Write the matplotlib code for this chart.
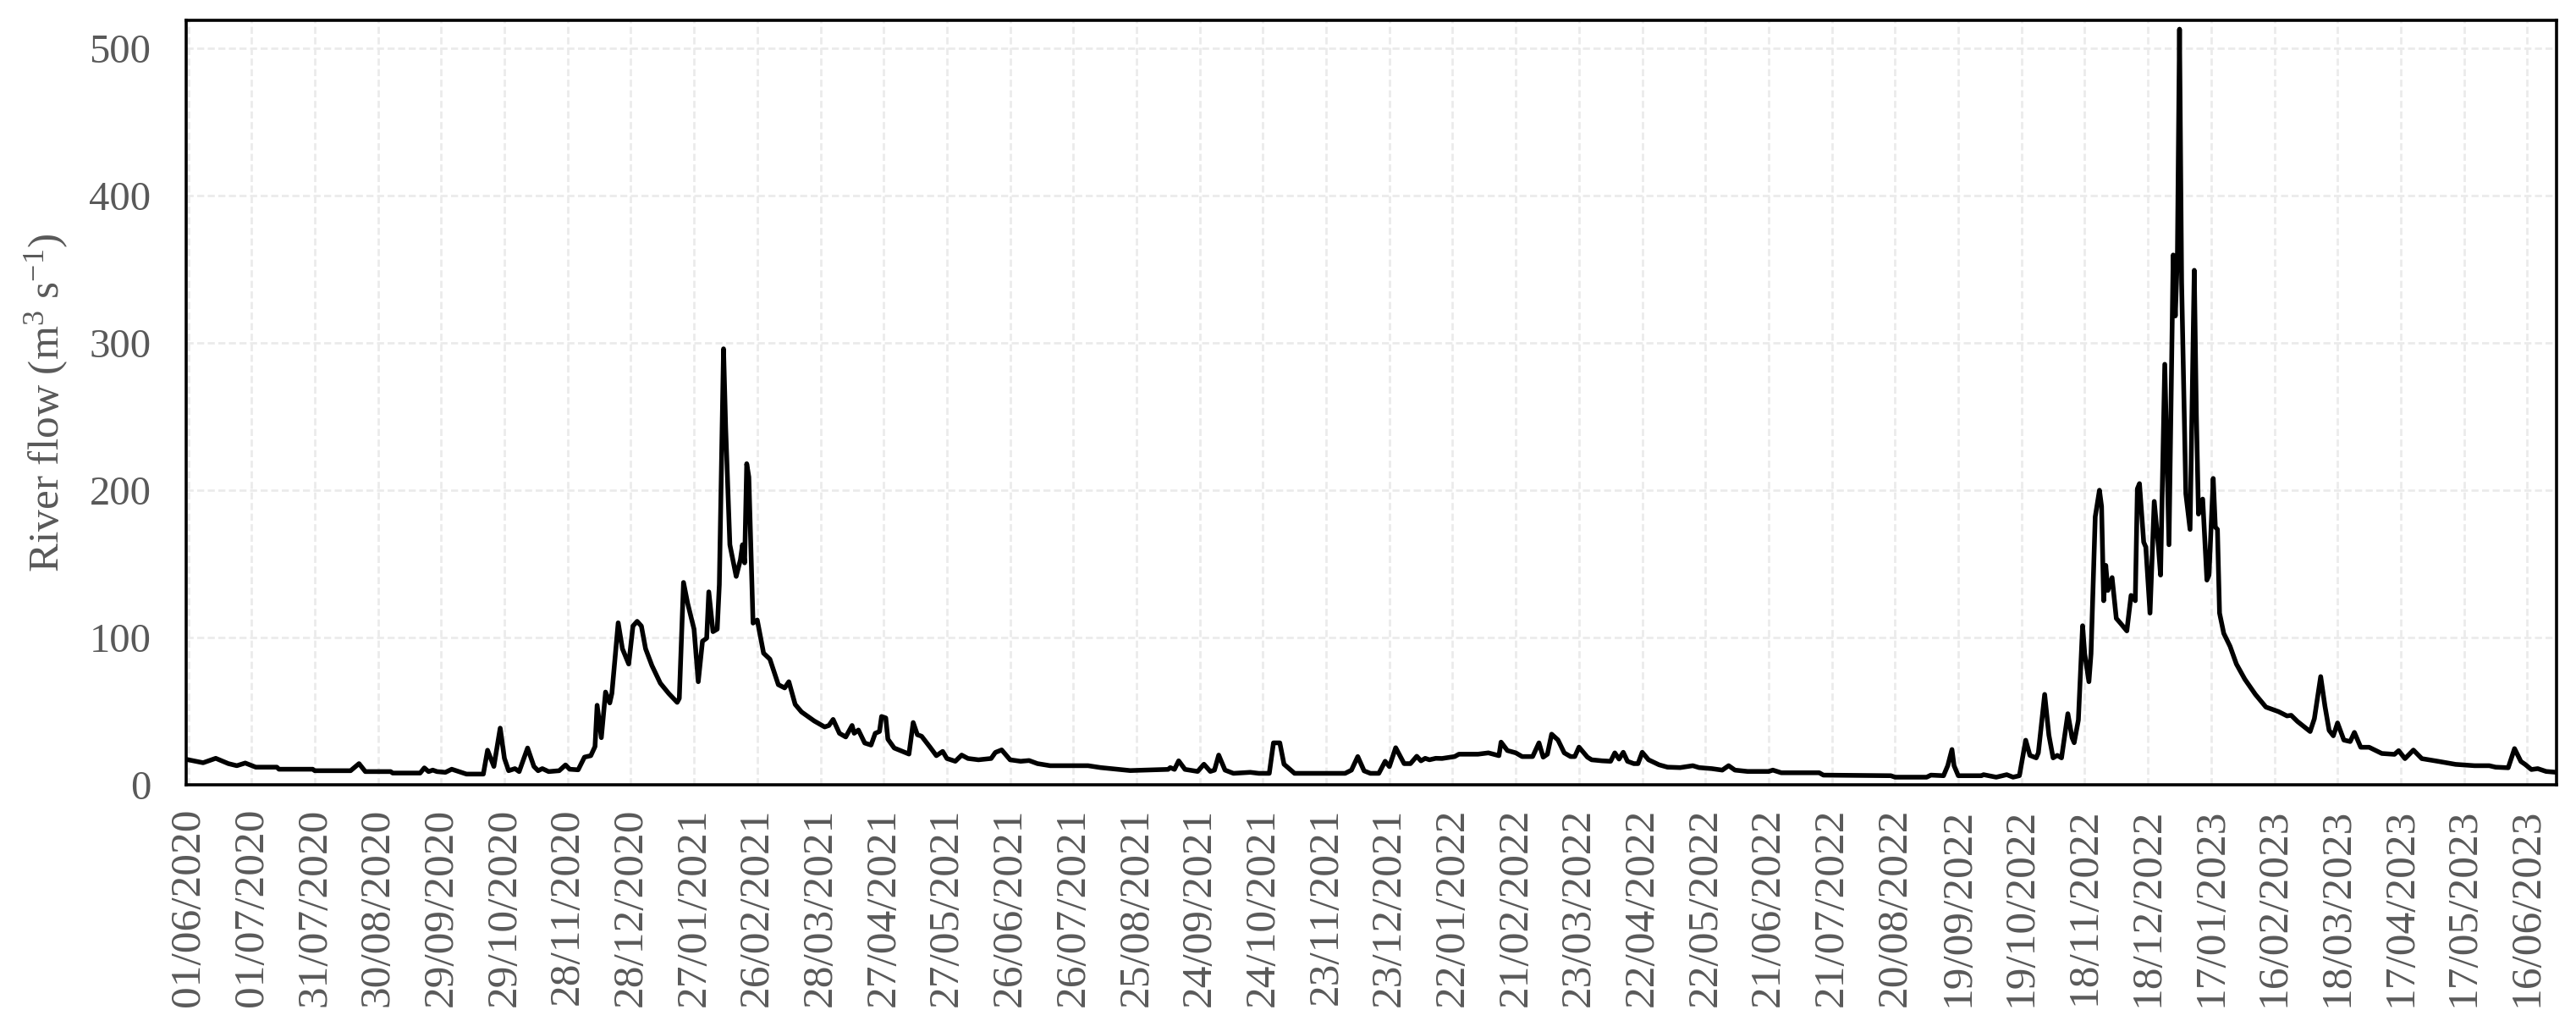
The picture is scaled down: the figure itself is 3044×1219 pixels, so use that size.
import datetime as dt
import matplotlib
matplotlib.use('Agg')
import matplotlib.pyplot as plt
import matplotlib.dates as mdates
import numpy as np

plt.rcParams['font.family'] = ['Liberation Serif', 'DejaVu Serif']
plt.rcParams['mathtext.default'] = 'regular'

# series start and the day offsets (from 01/06/2020) of the points
start = dt.datetime(2020, 6, 1)
end_day = 1124

day = [0, 7, 13, 19, 23, 27, 32, 42, 43, 59, 60, 77, 81, 84, 96, 97, 110, 112, 114, 116,
       118, 122, 125, 129, 132, 140, 142, 145, 148, 150, 152, 155, 157, 161, 164, 166, 168,
       171, 176, 179, 181, 185,
       188, 191, 193, 194, 196, 198, 200, 201, 204, 206, 209, 211, 213, 215, 217, 220, 224,
       228, 232, 233, 235, 237, 240, 242, 244, 246, 247, 249, 251, 252, 254, 255, 257, 260,
       262, 263, 264, 265, 266, 268, 270, 273, 276, 280, 283, 285, 288, 291, 297, 302, 304,
       306, 309, 312, 315, 316, 318, 321, 324, 326, 328, 329, 331, 332, 335, 342, 344, 346,
       348,
       352, 355, 358, 360, 364, 367, 370, 375, 381, 383, 386, 390, 395, 399, 403, 409, 427,
       433, 447, 465, 466, 468, 470, 473, 479, 482, 485, 487, 489, 492, 496, 504, 508, 513,
       515, 518, 520, 525, 549, 552, 555, 558, 561, 565, 568, 570, 573, 577, 580, 583, 585,
       587, 589, 592, 595, 601, 603, 612, 617, 622, 623, 626, 630, 633, 638, 641, 643, 645,
       647, 650, 653, 656, 658, 660, 664, 666, 671, 675, 677, 679, 681, 683, 686, 688, 690,
       693, 698, 702, 708, 714, 717, 723, 728, 731, 734, 740, 750, 752, 756, 774, 776, 808,
       810, 825, 827, 833, 835, 837, 838, 840,
       851, 852, 858, 863, 866, 869, 872, 874, 877, 878, 881, 883, 885, 887, 889, 892, 894,
       895, 897, 899, 900, 902, 903, 905, 907, 908, 909, 910, 911, 913,
       915, 917, 920, 922, 924, 925, 926, 928, 929, 931, 933, 935, 936, 938, 939, 940, 942,
       943, 944, 945, 946, 948, 950, 952, 953, 954, 956, 958, 959, 961, 962, 963, 964, 966,
       969, 972, 976, 981, 986,
       992, 996, 998, 1001, 1007, 1009, 1012, 1014, 1016, 1018, 1020, 1023, 1026, 1028, 1031,
       1035, 1041, 1047, 1049, 1052, 1056, 1060, 1068, 1076, 1085, 1092, 1095, 1101, 1104,
       1107, 1109, 1112, 1115, 1119, 1124]

flow = [17, 15, 18, 14.4, 13, 14.8, 12, 12, 10.6, 10.6, 9.6, 9.6, 14.4, 9, 9, 8, 8, 11.5, 9, 10,
        9, 8.5, 10.6, 8.7, 7.3, 7.3, 23.5, 12.5, 38.5, 18, 9.6, 11, 9, 25, 12.5, 9.6, 11,
        9, 9.6, 13.5, 10.6, 10.2,
        18.8, 19.8, 26, 54, 32, 63, 55.6, 62, 110, 92.4, 82, 107.8, 111, 107.8, 92.4, 81, 69,
        62, 56, 58.7, 137.4, 123, 105.7, 70, 97.5, 99.6, 131, 104, 105.7, 136, 296, 242.7, 163, 141.5,
        152.8, 163, 150.7, 218, 209, 109.8, 111.9, 89.4, 85.3, 68, 65.8, 70, 54.6, 49.5, 43.4, 39.3, 40.3,
        44.4, 35, 32.5, 40.3, 35, 37.2, 28.4, 27, 35, 36.2, 46.4, 45.4, 31, 25, 20.9, 42.3, 34,
        33,
        25.6, 19.8, 22.7, 17.9, 16, 20.2, 17.9, 17, 17.9, 22, 23.7, 17, 16, 16.5, 14.4, 13, 13,
        11.7, 9.7, 10.5, 11.7, 10.5, 16.3, 10.5, 9.1, 14, 9.1, 10, 20.2, 10, 7.8, 8.5, 7.8, 7.8,
        28.5, 28.5, 14, 7.8, 7.8, 10, 19.2, 9.5, 7.8, 7.8, 16, 12.4, 25.2, 14.4, 14.4, 19.4, 16.3,
        18, 17, 18, 17.9, 19.2, 20.8, 20.8, 21.7, 19.8, 29, 23.3, 21.7, 19.2, 19.2, 28.5, 18.8, 20.8,
        34.4, 30.5, 21.7, 19.2, 19.2, 25.6, 18.8, 17, 16.3, 16, 21.7, 17.5, 22.1, 16, 14.4, 14.4, 22.1,
        17, 13.6, 12, 11.7, 13, 11.7, 11, 10, 13, 10, 9.1, 9.1, 10, 8.2, 8.2, 6.6, 6.2,
        5.2, 5.2, 6.6, 6.2, 13, 24, 13, 6.2,
        6.2, 6.9, 5.2, 6.9, 5.2, 6.2, 30.3, 20, 18.3, 21.7, 61.4, 33.8, 18.3, 20, 18.3, 48.3, 32,
        28.6, 44, 108, 89, 70, 89, 182, 200, 189, 125, 149, 132, 140.7,
        113, 109.7, 104.5, 128.6, 125, 201, 204.5, 164.8, 161.4, 116.6, 192.4, 161.4, 142.4, 285.5, 223.4, 163, 359.7,
        318.3, 359.7, 513, 340.7, 197.6, 173.4, 349.3, 251, 183.8, 194, 139, 142.4, 208, 175, 173.4, 116.6, 102.8,
        94, 82, 71.7, 61.4, 52.8,
        49.7, 46.8, 47.2, 43, 36.2, 44.9, 73.5, 53.6, 37, 33.3, 42, 30.4, 29.4, 35.6, 25.5,
        25.5, 21.3, 20.7, 23.2, 17.8, 23.6, 17.8, 15.9, 13.9, 13, 13, 12, 11.6, 24.6,
        15.9, 13.9, 10.4, 11, 9.1, 8.5]

dates = [start + dt.timedelta(days=d) for d in day]
tick_dates = [start + dt.timedelta(days=30 * i) for i in range(38)]

fig = plt.figure(figsize=(15.22, 6.095), dpi=200)
ax = fig.add_axes([0.0723, 0.2395, 0.9202, 0.7408])

ax.plot(dates, flow, color='black', linewidth=2.0, solid_joinstyle='round', zorder=3)

ax.set_xlim(start - dt.timedelta(days=1), start + dt.timedelta(days=end_day))
ax.set_ylim(0, 519)

ax.set_xticks(tick_dates)
ax.xaxis.set_major_formatter(mdates.DateFormatter('%d/%m/%Y'))
ax.set_yticks([0, 100, 200, 300, 400, 500])

ax.tick_params(axis='x', length=0, pad=10, labelsize=18.5, labelcolor='#595959', labelrotation=90)
ax.tick_params(axis='y', length=0, pad=15, labelsize=17.5, labelcolor='#595959')

ax.grid(True, color='#ebebeb', linestyle=(0, (3, 1.5)), linewidth=1.0, zorder=0)
ax.set_axisbelow(True)

for s in ax.spines.values():
    s.set_color('black')
    s.set_linewidth(1.3)

ax.set_ylabel('River flow (m$^{3}$ s$^{-1}$)', fontsize=18.5, color='#595959')
ax.yaxis.set_label_coords(-0.049, 0.5)

plt.savefig('out.png', dpi=200)
